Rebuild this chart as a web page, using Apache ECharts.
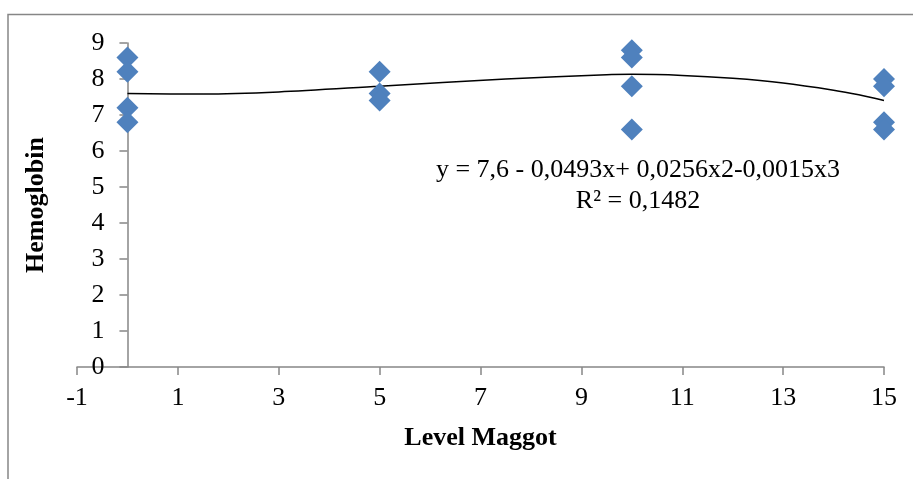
<!DOCTYPE html>
<html>
<head>
<meta charset="utf-8">
<script src="https://cdn.jsdelivr.net/npm/echarts@6/dist/echarts.min.js"></script>
<style>
  html, body { margin: 0; padding: 0; background: #fff; }
  #chart { width: 913px; height: 479px; }
</style>
</head>
<body>
<div id="chart"></div>
<script>
// observations (Level Maggot, Hemoglobin)
const levelX = [0, 0, 0, 0, 5, 5, 5, 10, 10, 10, 10, 15, 15, 15, 15];
const hemoY = [8.6, 8.2, 7.2, 6.8, 8.2, 7.6, 7.4, 8.8, 8.6, 7.8, 6.6, 8.0, 7.8, 6.8, 6.6];

// polynomial trend line
const trendX = [0, 1.5, 3, 5, 7.5, 9.5, 10, 11, 12, 13, 14, 14.5, 15];
const trendY = [7.60, 7.58, 7.64, 7.80, 8.00, 8.12, 8.13, 8.10, 8.02, 7.89, 7.69, 7.56, 7.40];

const xTicks = [-1, 1, 3, 5, 7, 9, 11, 13, 15];
const equationText = "y = 7,6 - 0,0493x+ 0,0256x2-0,0015x3\nR² = 0,1482";

const font = "Liberation Serif";
const axisGrey = "#868686";

const gridLeft = 77, gridRight = 29;
const xMin = -1, xMax = 15;
// y axis crosses the x axis at x = 0
const yAxisShift = (913 - gridLeft - gridRight) / (xMax - xMin) * (0 - xMin);

const chart = echarts.init(document.getElementById("chart"), null, { renderer: "canvas" });

chart.setOption({
  animation: false,
  backgroundColor: "#fff",
  grid: { left: gridLeft, right: gridRight, top: 43, bottom: 112, outerBoundsMode: "none", containLabel: false },
  xAxis: {
    type: "value",
    min: xMin,
    max: xMax,
    interval: 1,
    name: "Level Maggot",
    nameLocation: "middle",
    nameGap: 58,
    nameTextStyle: { fontFamily: font, fontSize: 26, fontWeight: "bold", color: "#000" },
    axisLine: { show: true, lineStyle: { color: axisGrey, width: 1.5 } },
    axisTick: { show: true, length: 8, customValues: xTicks, lineStyle: { color: axisGrey, width: 1.5 } },
    axisLabel: { customValues: xTicks, margin: 18, fontFamily: font, fontSize: 26, color: "#000" },
    splitLine: { show: false }
  },
  yAxis: {
    type: "value",
    min: 0,
    max: 9,
    interval: 1,
    offset: -yAxisShift,
    name: "Hemoglobin",
    nameLocation: "middle",
    nameGap: 78,
    nameRotate: 90,
    nameTextStyle: { fontFamily: font, fontSize: 26, fontWeight: "bold", color: "#000" },
    axisLine: { show: true, onZero: false, lineStyle: { color: axisGrey, width: 1.5 } },
    axisTick: { show: true, length: 8, lineStyle: { color: axisGrey, width: 1.5 } },
    axisLabel: { margin: 23, fontFamily: font, fontSize: 26, color: "#000" },
    splitLine: { show: false }
  },
  graphic: [
    {
      type: "polyline",
      shape: { points: [[8, 479], [8, 14.5], [913, 14.5]] },
      style: { stroke: axisGrey, lineWidth: 1.5, fill: null },
      silent: true
    },
    {
      type: "text",
      x: 638,
      y: 155,
      style: {
        text: equationText,
        fontFamily: font,
        fontSize: 26,
        lineHeight: 31,
        fill: "#000",
        textAlign: "center"
      },
      silent: true
    }
  ],
  series: [
    {
      name: "Trend",
      type: "line",
      data: trendX.map((x, i) => [x, trendY[i]]),
      smooth: 0.3,
      showSymbol: false,
      symbol: "none",
      lineStyle: { color: "#000", width: 1.5 },
      z: 2
    },
    {
      name: "Hemoglobin",
      type: "scatter",
      data: levelX.map((x, i) => [x, hemoY[i]]),
      symbol: "diamond",
      symbolSize: [22, 22],
      itemStyle: { color: "#4F81BD", opacity: 1 },
      z: 3
    }
  ]
});
</script>
</body>
</html>
